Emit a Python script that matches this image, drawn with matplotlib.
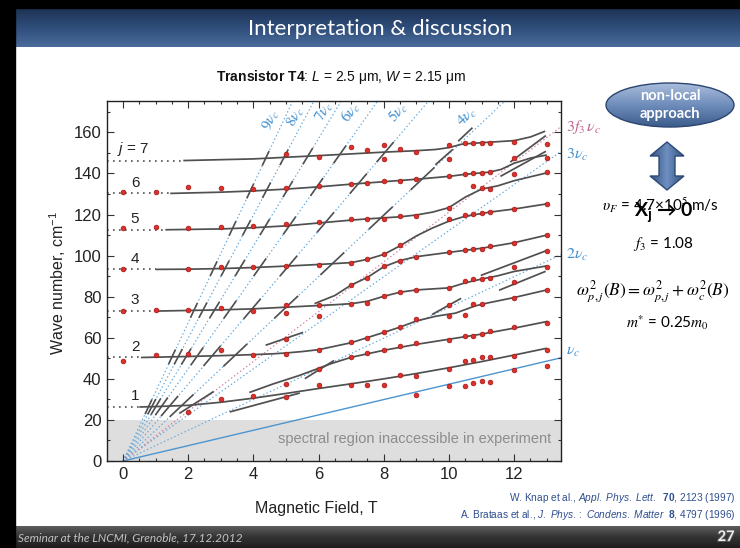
import numpy as np
import matplotlib
matplotlib.use("Agg")
import matplotlib.pyplot as plt
from matplotlib.patches import Ellipse, Polygon, Rectangle
from matplotlib.ticker import MultipleLocator
from matplotlib.colors import LinearSegmentedColormap
import matplotlib.patheffects as pe

plt.rcParams['mathtext.fontset'] = 'custom'
plt.rcParams['mathtext.rm'] = 'Liberation Sans'
plt.rcParams['mathtext.it'] = 'Liberation Sans:italic'
plt.rcParams['mathtext.bf'] = 'Liberation Sans:bold'
plt.rcParams['mathtext.sf'] = 'Liberation Sans'
plt.rcParams['font.family'] = ['Liberation Sans', 'DejaVu Sans']

# ---------------- data ----------------
nu_c_slope = 3.74          # cm^-1 per tesla (m* = 0.25 m0)
f3 = 1.08
harmonics = [2, 3, 4, 5, 6, 7, 8, 9]
label_n = [9, 8, 7, 6, 5, 4]
label_B = [4.55, 5.3, 6.2, 7.0, 8.45, 10.55]
label_W = [166, 167.5, 170, 170, 170, 167.5]
tick_n = [4, 5, 6, 7, 8, 9]

j_index = [1, 2, 3, 4, 5, 6, 7]
j_level = [26.3, 50.4, 73.0, 93.3, 112.6, 130.3, 146.3]

j1_B = [0.5, 1, 2, 3, 4, 5, 6, 7, 8, 9, 10, 11, 12, 13]
j1_W = [26.3, 26.5, 27.1, 28.6, 30.6, 32.9, 35.3, 37.6, 40.0, 42.6, 45.4, 48.4, 51.6, 54.9]
j2_B = [0.55, 2, 3, 4, 4.6, 5, 5.5, 6, 7, 8, 8.5, 9, 9.6, 10.2, 10.8, 11.2, 12, 13]
j2_W = [50.4, 50.9, 51.3, 51.8, 52.2, 52.6, 53.3, 54.2, 57.6, 62.6, 65.2, 68.2, 70.5, 72.0, 75.5, 77.0, 79.6, 83.3]
j3_B = [1.0, 2, 3, 4, 5, 6, 6.5, 7, 7.5, 8, 8.5, 9, 10, 10.5, 11, 11.5, 12, 13]
j3_W = [73.0, 73.3, 73.6, 74.1, 74.9, 75.7, 76.1, 76.6, 77.8, 80.2, 82.2, 83.3, 84.3, 86.8, 88.6, 90.2, 92.3, 95.0]
j4_B = [1.0, 2, 3, 4, 5, 6, 7, 7.5, 8, 8.5, 9.0, 9.5, 10.0, 10.5, 11, 11.25, 12, 13]
j4_W = [93.3, 93.4, 93.7, 94.2, 94.9, 95.7, 96.6, 98.2, 100.6, 104.8, 109.6, 113.5, 116.8, 119.2, 120.5, 121.2, 122.7, 125.2]
j5_B = [1.3, 3, 4, 5, 6, 7, 7.5, 8, 8.5, 9, 9.5, 10, 10.5, 11, 11.5, 12, 13]
j5_W = [112.6, 113.0, 113.6, 114.5, 115.9, 117.3, 117.9, 118.4, 118.9, 119.8, 121.2, 123.4, 128.5, 132.4, 134.0, 136.5, 140.3]
j6_B = [1.45, 3, 4, 5, 6, 7, 8, 9, 10, 10.5, 11, 11.25, 11.6, 12, 12.5, 13]
j6_W = [130.3, 130.9, 131.5, 132.4, 133.5, 134.8, 136.0, 137.2, 138.6, 139.6, 140.3, 140.7, 142.0, 145.0, 147.5, 149.0]
j7_B = [1.85, 4, 6, 8, 9, 9.6, 10.0, 10.4, 11, 12, 12.5, 12.95]
j7_W = [146.3, 147.1, 148.7, 150.4, 151.1, 151.7, 152.6, 154.3, 155.0, 156.0, 157.8, 160.6]

# additional branches of the anticrossings
j1_up_B = [3.9, 4.6, 5.4, 6.4, 7, 8, 9, 10, 11, 12, 13]
j1_up_W = [33.5, 37.5, 41.6, 47.5, 50.5, 53.9, 56.8, 59.3, 61.8, 64.7, 67.9]
j3_up_B = [5.9, 6.5, 7, 7.5, 8, 8.5, 9, 10, 11, 12, 13]
j3_up_W = [76.8, 80.6, 85.7, 89.4, 94.6, 97.6, 99.5, 101.6, 103.6, 106.3, 110.0]
piece_B = [[3.3, 5.4], [1.75, 2.76], [5.6, 6.45], [4.4, 5.5], [9.5, 10.35],
           [11.0, 13.0], [11.56, 12.94], [9.6, 10.1], [10.3, 10.7],
           [11.6, 12.95], [11.9, 12.95]]
piece_W = [[24.0, 33.0], [23.4, 33.6], [40.3, 48.7], [56.5, 62.5], [71.5, 79.0],
           [90.5, 102.5], [83.3, 92.2], [144.5, 151.5], [156.0, 162.0],
           [138.8, 150.6], [145.8, 158.2]]

# measured peaks (red dots)
field_values = [0, 1, 2, 3, 4, 5, 6, 7, 7.5, 8, 8.5, 9, 10, 10.5, 10.75, 11, 11.25, 12, 13]
peaks_at_field = [
    [48.7, 73.2, 93.5, 113.6, 131.0],
    [51.6, 73.5, 113.8, 131.0],
    [24.0, 51.9, 73.5, 93.5, 113.6, 133.4],
    [30.0, 54.0, 74.3, 94.6, 113.8, 132.9],
    [31.8, 51.4, 73.2, 94.6, 114.4, 132.4],
    [31.0, 37.3, 52.2, 59.4, 72.2, 76.0, 94.8, 115.2, 133.0, 149.5],
    [37.0, 45.0, 54.0, 70.8, 76.0, 95.4, 116.5, 133.7, 148.0],
    [37.0, 50.6, 57.8, 76.4, 85.7, 96.5, 117.7, 134.9, 153.0],
    [37.2, 52.4, 60.0, 77.1, 89.0, 98.3, 118.0, 135.2, 151.4],
    [37.0, 54.0, 63.0, 80.4, 95.1, 100.7, 117.7, 136.3, 147.0, 153.7],
    [41.9, 56.0, 65.1, 82.4, 97.6, 105.2, 119.4, 136.5, 151.9],
    [32.1, 41.3, 57.3, 69.0, 83.3, 99.5, 119.4, 137.1, 150.6],
    [36.7, 44.8, 59.1, 70.7, 76.2, 84.0, 101.6, 117.7, 123.2, 138.8, 147.2, 154.0],
    [36.5, 48.7, 60.9, 71.1, 87.6, 102.6, 119.6, 139.9, 154.7],
    [38.1, 49.2, 61.0, 76.4, 88.6, 103.3, 120.4, 133.7, 140.2, 154.9],
    [38.9, 50.7, 62.0, 76.4, 88.6, 103.4, 120.7, 132.9, 140.2, 154.9],
    [38.6, 50.8, 63.3, 89.0, 104.5, 121.4, 132.4, 140.5, 154.7],
    [44.3, 51.2, 65.2, 79.2, 87.3, 94.5, 106.3, 122.5, 139.7, 147.7, 155.3],
    [46.2, 54.0, 67.4, 83.3, 94.6, 102.4, 110.0, 125.1, 140.5, 147.7, 154.3],
]

x_ticks = [0, 2, 4, 6, 8, 10, 12]
y_ticks = [0, 20, 40, 60, 80, 100, 120, 140, 160]

# ---------------- figure / slide ----------------
W_PX, H_PX = 740, 548
fig = plt.figure(figsize=(7.4, 5.48), dpi=100)
bg = fig.add_axes([0, 0, 1, 1], zorder=0)
bg.set_facecolor('white')

hdr_cmap = LinearSegmentedColormap.from_list('hdr', ['#1e3354', '#2f4d7a', '#4a6c9c'])
bg.imshow(np.linspace(0, 1, 64).reshape(-1, 1), extent=(0, W_PX, 47, 8),
          cmap=hdr_cmap, aspect='auto', interpolation='bilinear', zorder=1)
ftr_cmap = LinearSegmentedColormap.from_list('ftr', ['#5c5c5c', '#333333', '#1e1e1e'])
bg.imshow(np.linspace(0, 1, 32).reshape(-1, 1), extent=(0, W_PX, H_PX, 526),
          cmap=ftr_cmap, aspect='auto', interpolation='bilinear', zorder=1)
bg.add_patch(Rectangle((0, 0), W_PX, 8, color='black', zorder=2))
bg.add_patch(Rectangle((0, 0), 15, H_PX, color='black', zorder=2))

bg.text(380, 29, 'Interpretation & discussion', color='white', fontsize=16,
        family=['Lato', 'DejaVu Sans'], ha='center', va='center', zorder=3)
bg.text(18, 538, 'Seminar at the LNCMI, Grenoble, 17.12.2012', color='#c4c4c4',
        fontsize=8.5, style='italic', family=['Lato', 'DejaVu Sans'],
        ha='left', va='center', zorder=3)
bg.text(726, 537, '27', color='#f0f0f0', fontsize=10.5, weight='bold',
        family=['Lato', 'DejaVu Sans'], ha='center', va='center', zorder=3,
        path_effects=[pe.withStroke(linewidth=1.5, foreground='#555555')])

# chart title and axis labels
bg.text(341, 77, r'$\mathbf{Transistor\ T4}$: $L$ = 2.5 μm, $W$ = 2.15 μm',
        fontsize=10, ha='center', va='center', color='#111111')
bg.text(316, 509, 'Magnetic Field, T', fontsize=11.5, ha='center', va='center',
        color='#222222')
bg.text(58, 283, r'Wave number, cm$^{-1}$', fontsize=11.5, ha='center', va='center',
        rotation=90, color='#222222')

# references
ref_col = '#2f4f8f'
bg.text(736, 498, r'W. Knap et al., $\it{Appl.\ Phys.\ Lett.}$  $\bf{70}$, 2123 (1997)',
        fontsize=7.3, color=ref_col, ha='right', va='center')
bg.text(736, 515, r'A. Brataas et al., $\it{J.\ Phys.:\ Condens.\ Matter}$  $\bf{8}$, 4797 (1996)',
        fontsize=7.3, color=ref_col, ha='right', va='center')

# right panel: ellipse + arrow + formulas
ell_cmap = LinearSegmentedColormap.from_list('ell', ['#a9bddc', '#6f8dbb', '#3c5c8c'])
ell = Ellipse((670, 105), 128, 44, facecolor='none', edgecolor='#2d4670', lw=1.0, zorder=4)
bg.add_patch(ell)
im = bg.imshow(np.linspace(0, 1, 64).reshape(-1, 1), extent=(606, 734, 127, 83),
               cmap=ell_cmap, aspect='auto', interpolation='bilinear', zorder=3)
clip_ell = Ellipse((670, 105), 128, 44, transform=bg.transData)
im.set_clip_path(clip_ell)
bg.text(670, 96, 'non-local', color='white', fontsize=10.5, weight='bold',
        family=['Lato', 'DejaVu Sans'], ha='center', va='center', zorder=5)
bg.text(670, 114, 'approach', color='white', fontsize=10.5, weight='bold',
        family=['Lato', 'DejaVu Sans'], ha='center', va='center', zorder=5)

arrow_pts = [(667, 142), (684, 156), (675, 156), (675, 176), (684, 176), (667, 190),
             (650, 176), (659, 176), (659, 156), (650, 156)]
arr = Polygon(arrow_pts, closed=True, facecolor='none', edgecolor='#2d4a78', lw=1.0, zorder=4)
bg.add_patch(arr)
arr_cmap = LinearSegmentedColormap.from_list('arr', ['#34527f', '#6e8fc0', '#34527f'])
im2 = bg.imshow(np.linspace(0, 1, 64).reshape(1, -1), extent=(650, 684, 190, 142),
                cmap=arr_cmap, aspect='auto', interpolation='bilinear', zorder=3)
im2.set_clip_path(Polygon(arrow_pts, closed=True, transform=bg.transData))

bg.text(660, 205, r'$\upsilon_F$ = 4.7×10$^5$ m/s', fontsize=11, ha='center', va='center',
        family=['Lato', 'DejaVu Sans'], math_fontfamily='stix', zorder=5)
bg.text(664, 213, r'X$_\mathbf{j}$ → 0', fontsize=14, weight='bold', ha='center', va='center',
        family=['Lato', 'DejaVu Sans'], zorder=6)
bg.text(663, 244, r'$f_3$ = 1.08', fontsize=11, ha='center', va='center',
        family=['Lato', 'DejaVu Sans'], math_fontfamily='stix', zorder=5)
bg.text(653, 292, r'$\omega^2_{p,j}(B) = \omega^2_{p,j} + \omega^2_c(B)$', fontsize=12.5,
        ha='center', va='center', math_fontfamily='stix', zorder=5)
bg.text(667, 323, r'$m^{*}$ = 0.25$m_0$', fontsize=11, ha='center', va='center',
        family=['Lato', 'DejaVu Sans'], math_fontfamily='stix', zorder=5)

bg.set_xlim(0, W_PX)
bg.set_ylim(H_PX, 0)
bg.axis('off')

# ---------------- main chart ----------------
x0, x1 = -0.49, 13.436
y0, y1 = 0, 175.3
ax = fig.add_axes([107 / W_PX, 1 - 461 / H_PX, 454 / W_PX, 360 / H_PX], zorder=2)
ax.set_xlim(x0, x1)
ax.set_ylim(y0, y1)

ax.axhspan(0, 20, color='#dedede', zorder=0, lw=0)
ax.text(8.95, 10.5, 'spectral region inaccessible in experiment', fontsize=10.5,
        color='#8c8c8c', ha='center', va='center', zorder=1)

blue = '#62a8db'
pink = '#cc7fa5'
a = nu_c_slope
# cyclotron line
ax.plot([0, x1], [0, a * x1], color='#4d95cf', lw=1.0, zorder=1)
# harmonics
for n in harmonics:
    b_end = min(x1, y1 / (n * a))
    ax.plot([0, b_end], [0, n * a * b_end], color=blue, lw=0.85,
            ls=(0, (1.2, 2.0)), zorder=1)
b_end = min(x1, y1 / (3 * f3 * a))
ax.plot([0, b_end], [0, 3 * f3 * a * b_end], color=pink, lw=0.85, ls=(0, (1.2, 2.0)), zorder=1)

for n, lb, lw_ in zip(label_n, label_B, label_W):
    ang = np.degrees(np.arctan(n * a))
    ax.text(lb, lw_, r'$%d\nu_c$' % n, color='#3f8fcf', fontsize=11, ha='center', va='center',
            rotation=ang, transform_rotates_text=True, rotation_mode='anchor',
            math_fontfamily='stix', zorder=2)

# right-side labels
ax.text(13.58, 162.6, r'$3f_3\,\nu_c$', color='#c0608e', fontsize=11.5, ha='left', va='center',
        math_fontfamily='stix', clip_on=False)
ax.text(13.58, 149.0, r'$3\nu_c$', color='#3f8fcf', fontsize=11.5, ha='left', va='center',
        math_fontfamily='stix', clip_on=False)
ax.text(13.58, 100.3, r'$2\nu_c$', color='#3f8fcf', fontsize=11.5, ha='left', va='center',
        math_fontfamily='stix', clip_on=False)
ax.text(13.58, 53.1, r'$\nu_c$', color='#3f8fcf', fontsize=11.5, ha='left', va='center',
        math_fontfamily='stix', clip_on=False)

gray = '#505050'
main_B = [j1_B, j2_B, j3_B, j4_B, j5_B, j6_B, j7_B]
main_W = [j1_W, j2_W, j3_W, j4_W, j5_W, j6_W, j7_W]
for j, lev, bb, ww in zip(j_index, j_level, main_B, main_W):
    ax.plot([x0, bb[0]], [lev, lev], color=gray, lw=1.2, ls=(0, (1.0, 2.6)), zorder=2)
    ax.plot(bb, ww, color=gray, lw=1.25, zorder=2, solid_capstyle='butt')
    # anticrossing ticks with higher cyclotron harmonics
    grid = np.linspace(bb[0], bb[-1], 3000)
    wg = np.interp(grid, bb, ww)
    for n in tick_n:
        if j == 7 and n == 4:
            continue
        d = n * a * grid - wg
        idx = np.where(np.sign(d[:-1]) != np.sign(d[1:]))[0]
        for k in idx:
            bs, ws = grid[k], wg[k]
            half = {4: 5.2, 5: 4.6, 6: 4.0, 7: 3.6, 8: 3.4, 9: 3.2}[n]
            db = half / (n * a)
            ax.plot([bs - db, bs + db], [ws - half, ws + half], color=gray, lw=1.2, zorder=2)

for bb, ww in [(j1_up_B, j1_up_W), (j3_up_B, j3_up_W)] + list(zip(piece_B, piece_W)):
    ax.plot(bb, ww, color=gray, lw=1.25, zorder=2)

# branch labels
ax.text(-0.17, 147.6, r'$j$ = 7', fontsize=11, ha='left', va='bottom', color='#222222')
for j, lev in zip(j_index[:-1], j_level[:-1]):
    ax.text(0.37, lev + 1.8, str(j), fontsize=11, ha='center', va='bottom', color='#222222')

# measured points
dot_B = [b for b, ps in zip(field_values, peaks_at_field) for _ in ps]
dot_W = [p for ps in peaks_at_field for p in ps]
ax.plot(dot_B, dot_W, 'o', ms=3.4, color='#d8322a', mec='#a81515', mew=0.5, zorder=4)

ax.set_xticks(x_ticks)
ax.set_yticks(y_ticks)
ax.xaxis.set_minor_locator(MultipleLocator(0.5))
ax.yaxis.set_minor_locator(MultipleLocator(10))
ax.tick_params(which='both', direction='in', top=True, right=True, width=0.8, color='#333333')
ax.tick_params(which='major', length=5, labelsize=12, labelcolor='#222222', pad=4)
ax.tick_params(which='minor', length=2.5)
for s in ax.spines.values():
    s.set_linewidth(1.0)
    s.set_color('#222222')

fig.savefig('out.png', dpi=100)
